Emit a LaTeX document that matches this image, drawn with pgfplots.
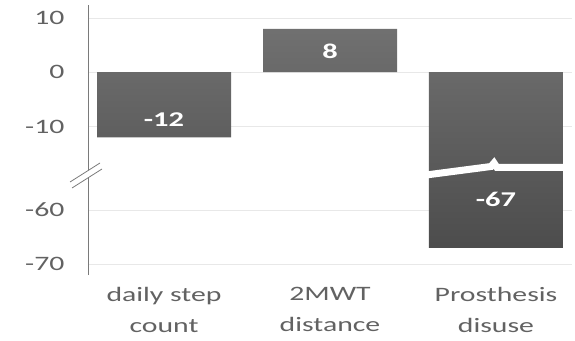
\documentclass[border=0pt]{standalone}
\usepackage{pgfplots}
\usepackage{pgfplotstable}
\pgfplotsset{compat=1.18}
\usepackage{fontspec}
\setmainfont{Carlito}[FakeStretch=1.45]

% change per measure; values below -40 sit on the lower segment of the broken axis
\pgfplotstableread{
x y dy
0 -12 18
1 8 -22
2 -67 48
}\changes

\definecolor{txtgray}{HTML}{626262}
\definecolor{axgray}{HTML}{7A7A7A}

\begin{document}
\begin{tikzpicture}
\useasboundingbox (0,0) rectangle (575pt,340pt);
\begin{axis}[
  at={(88pt,65pt)}, anchor=south west,
  scale only axis, width=484pt, height=270pt,
  xmin=-0.458, xmax=2.458, ymin=-37.4, ymax=12.4,
  axis y line*=left, axis x line*=bottom,
  x axis line style={draw=none},
  y axis line style={draw=axgray, line width=0.9pt},
  ytick={10,0,-10,-25.4,-35.4},
  yticklabels={10,0,-10,-60,-70},
  ymajorgrids, grid style={black!9, line width=0.8pt},
  xtick={0,1,2},
  xticklabels={{daily step\\count},{2MWT\\distance},{Prosthesis\\disuse}},
  xticklabel style={align=center, yshift=-9pt},
  yticklabel style={xshift=-20pt},
  major tick length=0pt,
  tick label style={font=\fontsize{20.5}{31}\selectfont, text=txtgray},
  y filter/.expression={y<-40 ? y+34.6 : y},
  clip=false,
]
\addplot[ybar, bar width=134pt, draw=none,
  top color=black!56, bottom color=black!70,
  point meta=explicit,
  visualization depends on={\thisrow{dy} \as \labdy},
  nodes near coords={\pgfmathprintnumber[assume math mode=true]{\pgfplotspointmeta}},
  every node near coord/.append style={anchor=center, yshift=\labdy pt,
    text=white, font=\fontsize{21}{24}\selectfont\bfseries},
] table[x=x, y=y, meta=y] {\changes};
\end{axis}
% gap across the long bar
\draw[white, line width=7pt, line join=miter]
  (426pt,165pt) -- (491pt,173.5pt) -- (494pt,177pt) -- (497pt,172.5pt) -- (567pt,172.5pt);
% break marks on the value axis
\fill[white] (70pt,158pt) -- (100pt,177pt) -- (102pt,171pt) -- (72pt,152pt) -- cycle;
\draw[axgray, line width=0.8pt] (70pt,158pt) -- (100pt,177pt);
\draw[axgray, line width=0.8pt] (72pt,152pt) -- (102pt,171pt);
\end{tikzpicture}
\end{document}
